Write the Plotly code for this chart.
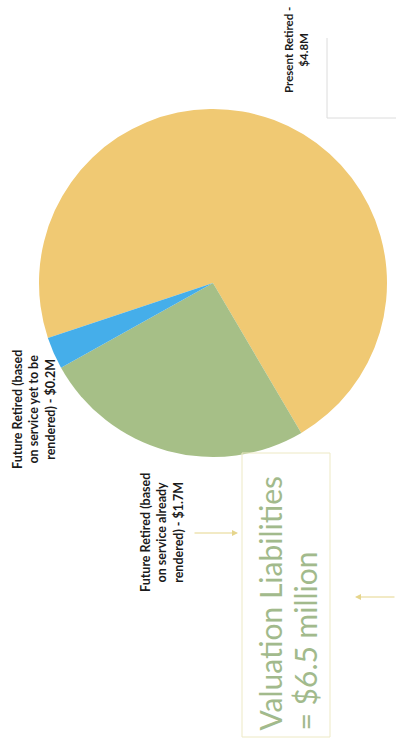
import plotly.graph_objects as go

# Valuation liabilities split, in $ millions
segments = ["Present Retired", "Future Retired (service already rendered)", "Future Retired (service yet to be rendered)"]
liabilities = [4.8, 1.7, 0.2]
slice_colors = ["#F0C973", "#A6BF87", "#45AEEA"]

label_present = "Present Retired -<br>$4.8M"
label_rendered = "Future Retired (based<br>on service already<br>rendered) - $1.7M"
label_yet = "Future Retired (based<br>on service yet to be<br>rendered) - $0.2M"
total_line1 = "Valuation Liabilities"
total_line2 = "= $6.5 million"

W, H = 396, 738


def px(x):
    return x / W


def py(y):
    return 1 - y / H


fig = go.Figure()
fig.add_trace(go.Pie(
    labels=segments,
    values=liabilities,
    marker=dict(colors=slice_colors, line=dict(width=0)),
    sort=False,
    direction="clockwise",
    rotation=251.6,
    textinfo="none",
    hoverinfo="label+value",
    showlegend=False,
    domain=dict(x=[px(39), px(387)], y=[py(457), py(109)]),
))

label_font = dict(family="Lato", color="#1b1b1b", weight="bold")
annotations = [
    dict(x=px(296), y=py(50), text=label_present, textangle=-90, showarrow=False,
         xanchor="center", yanchor="middle",
         align="center", font=dict(size=11.5, **label_font)),
    dict(x=px(34), y=py(410), text=label_yet, textangle=-90, showarrow=False,
         xanchor="center", yanchor="middle",
         align="center", font=dict(size=12.5, **label_font)),
    dict(x=px(162), y=py(533), text=label_rendered, textangle=-90, showarrow=False,
         xanchor="center", yanchor="middle",
         align="center", font=dict(size=12.5, **label_font)),
    dict(x=px(269), y=py(733), text=total_line1, textangle=-90, showarrow=False,
         xanchor="center", yanchor="bottom",
         font=dict(family="Lato", size=30, color="#A2BA8C")),
    dict(x=px(304), y=py(733), text=total_line2, textangle=-90, showarrow=False,
         xanchor="center", yanchor="bottom",
         font=dict(family="Lato", size=30, color="#A2BA8C")),
    # pointers
    dict(x=px(238), y=py(533), ax=-45, ay=0, text="", showarrow=True, arrowhead=2,
         arrowsize=1, arrowwidth=1.2, arrowcolor="#E6D58C"),
    dict(x=px(355), y=py(597), ax=41, ay=0, text="", showarrow=True, arrowhead=2,
         arrowsize=1, arrowwidth=1.2, arrowcolor="#E6D58C"),
]
for a in annotations:
    a["xref"] = "paper"
    a["yref"] = "paper"

shapes = [
    # frame around the total
    dict(type="rect", xref="paper", yref="paper", x0=px(242), x1=px(330), y0=py(737), y1=py(453),
         line=dict(color="#EDE9C4", width=1)),
    # corner lines at top right
    dict(type="line", xref="paper", yref="paper", x0=px(327), x1=px(327), y0=py(38), y1=py(118),
         line=dict(color="#DCDCDC", width=1)),
    dict(type="line", xref="paper", yref="paper", x0=px(327), x1=px(396), y0=py(118), y1=py(118),
         line=dict(color="#DCDCDC", width=1)),
]

fig.update_layout(
    width=W, height=H,
    margin=dict(l=0, r=0, t=0, b=0),
    paper_bgcolor="white",
    plot_bgcolor="white",
    annotations=annotations,
    shapes=shapes,
)

fig.write_html("out.html")
